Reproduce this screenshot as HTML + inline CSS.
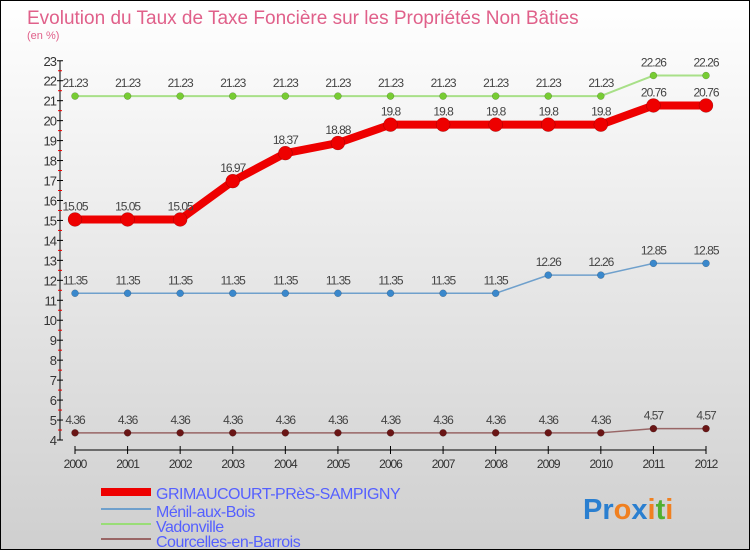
<!DOCTYPE html>
<html><head><meta charset="utf-8"><style>
body{margin:0}
#c{width:748px;height:548px;border:1px solid #000;background:linear-gradient(#ffffff,#cfcfcf);position:relative;font-family:"Liberation Sans",sans-serif;overflow:hidden}
</style></head><body>
<div id="c">
<svg id="s" width="748" height="548" xmlns="http://www.w3.org/2000/svg">
<text x="26" y="23" font-size="19" fill="#e0608a">Evolution du Taux de Taxe Foncière sur les Propriétés Non Bâties</text>
<text x="26" y="38" font-size="11" fill="#e0608a">(en %)</text>
<g id="axes"></g><g id="series"></g>
<g>
<rect x="100" y="487" width="50" height="8" fill="#e00"/>
<text x="155" y="498" font-size="16" fill="#5560ff" letter-spacing="-0.5">GRIMAUCOURT-PRèS-SAMPIGNY</text>
<rect x="100" y="507" width="50" height="2" fill="#6fa0cc"/>
<text x="155" y="516" font-size="16" fill="#5560ff" letter-spacing="-0.5">Ménil-aux-Bois</text>
<rect x="100" y="522" width="50" height="2" fill="#99dd77"/>
<text x="155" y="531" font-size="16" fill="#5560ff" letter-spacing="-0.5">Vadonville</text>
<rect x="100" y="537" width="50" height="2" fill="#996666"/>
<text x="155" y="546" font-size="16" fill="#5560ff" letter-spacing="-0.5">Courcelles-en-Barrois</text>
</g>
<g font-size="29" font-weight="bold">
<text x="582" y="518"><tspan fill="#2a7fd0">Pr</tspan><tspan fill="#f08020">o</tspan><tspan fill="#2a7fd0">x</tspan><tspan fill="#f08020">i</tspan><tspan fill="#50b030">t</tspan><tspan fill="#f08020">i</tspan></text>
</g>
</svg>
</div>
<script>
const years=[2000,2001,2002,2003,2004,2005,2006,2007,2008,2009,2010,2011,2012];
const grim=[15.05,15.05,15.05,16.97,18.37,18.88,19.8,19.8,19.8,19.8,19.8,20.76,20.76];
const menil=[11.35,11.35,11.35,11.35,11.35,11.35,11.35,11.35,11.35,12.26,12.26,12.85,12.85];
const vadon=[21.23,21.23,21.23,21.23,21.23,21.23,21.23,21.23,21.23,21.23,21.23,22.26,22.26];
const courc=[4.36,4.36,4.36,4.36,4.36,4.36,4.36,4.36,4.36,4.36,4.36,4.57,4.57];
const yTicks=[4,5,6,7,8,9,10,11,12,13,14,15,16,17,18,19,20,21,22,23];
const NS="http://www.w3.org/2000/svg";
const X=i=>74+i*(631/(years.length-1));
const Y=v=>439-(v-4)*19.96;
function mk(t,a,p){const e=document.createElementNS(NS,t);for(const k in a)e.setAttribute(k,a[k]);p.appendChild(e);return e;}
const ax=document.getElementById('axes');
let l=mk('line',{x1:59,y1:Y(23),x2:59,y2:Y(4),stroke:'#000'},ax);


yTicks.forEach(v=>{
 mk('line',{x1:56,y1:Y(v),x2:62,y2:Y(v),stroke:'#000'},ax);
 if(v<23)mk('line',{x1:57,y1:Y(v+0.5),x2:61,y2:Y(v+0.5),stroke:'#e00'},ax);
 const t=mk('text',{x:55,y:Y(v)+5,'text-anchor':'end','font-size':13,fill:'#333','letter-spacing':'-1'},ax);
 t.textContent=v;
 
 
});
l=mk('line',{x1:X(0),y1:449,x2:X(12),y2:449,stroke:'#000'},ax);


years.forEach((y,i)=>{
 mk('line',{x1:X(i),y1:445,x2:X(i),y2:453,stroke:'#000'},ax);
 const t=mk('text',{x:X(i),y:467,'text-anchor':'middle','font-size':12,fill:'#333','letter-spacing':'-1'},ax);
 t.textContent=y;
 
 
});
const sg=document.getElementById('series');
function series(d,name,col,lc,w,r){
 const g=mk('g',{},sg);
 
 
 const p=mk('polyline',{points:d.map((v,i)=>X(i)+','+Y(v)).join(' '),fill:'none',stroke:lc,'stroke-width':w,'stroke-linejoin':'round'},g);
 
 
 d.forEach((v,i)=>{
  const c=mk('circle',{cx:X(i),cy:Y(v),r:r,fill:col,stroke:'rgba(0,0,0,0.3)','stroke-width':0.5},g);
  
  
  const t=mk('text',{x:X(i),y:Y(v)-9,'text-anchor':'middle','font-size':12,fill:'#444','letter-spacing':'-1'},g);
  t.textContent=String(v);
  
  
 });
}
series(vadon,'vadonville','#77cc33','#a8e088',2,3.5);
series(menil,'menil-aux-bois','#3a88cc','#6fa0cc',1.5,3.5);
series(courc,'courcelles-en-barrois','#6a1515','#996666',1.5,3.5);
series(grim,'grimaucourt','#ee0000','#ee0000',8,7);
</script>
</body></html>
